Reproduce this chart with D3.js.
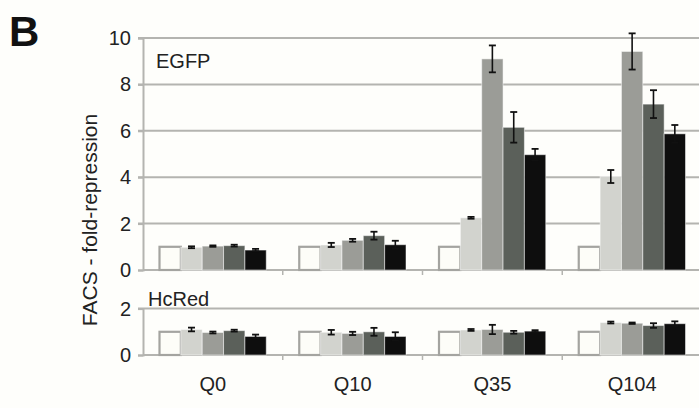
<!DOCTYPE html>
<html><head><meta charset="utf-8">
<script src="https://cdn.jsdelivr.net/npm/d3@7"></script>
<style>
html,body{margin:0;padding:0;background:#fefefb;}
svg{display:block;font-family:"Liberation Sans",Arial,sans-serif;}
</style></head>
<body><svg id="c" width="699" height="408"></svg>
<script>
const categories = ["Q0","Q10","Q35","Q104"];
const seriesIdx = [0,1,2,3,4];
const seriesColors = ["#fdfdf8","#d2d3ce","#9b9c97","#5b605a","#0e0e0e"];
// EGFP panel: mean and error per category (5 series each)
const egfpMeans = [
  [1, 0.98, 1.03, 1.05, 0.86],
  [1, 1.08, 1.28, 1.48, 1.09],
  [1, 2.25, 9.10, 6.15, 4.97],
  [1, 4.03, 9.42, 7.15, 5.87]
];
const egfpErrs = [
  [0, 0.04, 0.03, 0.04, 0.05],
  [0, 0.09, 0.06, 0.17, 0.17],
  [0, 0.04, 0.58, 0.66, 0.25],
  [0, 0.28, 0.78, 0.60, 0.38]
];
// HcRed panel
const hcredMeans = [
  [1, 1.10, 0.97, 1.05, 0.80],
  [1, 0.98, 0.93, 1.00, 0.80],
  [1, 1.08, 1.10, 0.98, 1.03],
  [1, 1.40, 1.37, 1.27, 1.35]
];
const hcredErrs = [
  [0, 0.08, 0.04, 0.04, 0.08],
  [0, 0.10, 0.07, 0.17, 0.18],
  [0, 0.04, 0.20, 0.06, 0.04],
  [0, 0.04, 0.03, 0.10, 0.10]
];
const egfpTicks = [0,2,4,6,8,10];
const hcredTicks = [0,2];

const svg = d3.select("#c");
const axisX = 143, rightX = 702;
const x0 = d3.scaleBand().domain(categories).range([axisX, rightX]).padding(0);
const x1 = d3.scaleBand().domain(seriesIdx).range([16.5, x0.bandwidth()-16.5]).padding(0);
const yTop = d3.scaleLinear().domain([0,10]).range([270,38]);
const yBot = d3.scaleLinear().domain([0,2]).range([355,308.6]);
const gridCol = "#b4b4b0", textCol = "#222";

function panel(y, ticks, means, errs, label, labelX, labelY){
  const g = svg.append("g");
  // gridlines
  g.selectAll("line.grid").data(ticks.filter(t=>t>0)).join("line")
    .attr("x1", axisX-5).attr("x2", 699)
    .attr("y1", d=>y(d)).attr("y2", d=>y(d))
    .attr("stroke", gridCol).attr("stroke-width", 2);
  // y axis
  const ax = d3.axisLeft(y).tickValues(ticks).tickSize(5).tickPadding(7).tickFormat(d3.format("d"));
  const ag = g.append("g").attr("transform", `translate(${axisX},0)`).call(ax);
  ag.select(".domain").attr("stroke", gridCol).attr("stroke-width", 2);
  ag.selectAll(".tick line").attr("stroke", gridCol).attr("stroke-width", 2);
  ag.selectAll(".tick text").attr("fill", textCol).style("font-size","20px").style("font-family",'"Liberation Sans",Arial,sans-serif');
  // baseline
  g.append("line").attr("x1", axisX).attr("x2", 699).attr("y1", y(0)).attr("y2", y(0))
    .attr("stroke", gridCol).attr("stroke-width", 2);
  // category ticks
  g.selectAll("line.ct").data(categories.slice(1)).join("line")
    .attr("x1", d=>x0(d)).attr("x2", d=>x0(d)).attr("y1", y(0)).attr("y2", y(0)+5)
    .attr("stroke", gridCol).attr("stroke-width", 1.5);
  // bars
  categories.forEach((c, ci) => {
    const cg = g.append("g").attr("transform", `translate(${x0(c)},0)`);
    cg.selectAll("rect").data(seriesIdx).join("rect")
      .attr("x", s=>x1(s)).attr("width", x1.bandwidth())
      .attr("y", s=>y(means[ci][s])).attr("height", s=>y(0)-y(means[ci][s]))
      .attr("fill", s=>seriesColors[s])
      .attr("stroke", s=> s===0 ? "#a4a4a0" : "rgba(255,255,255,0.5)")
      .attr("stroke-width", s=> s===0 ? 2.2 : 1);
    const eb = seriesIdx.filter(s=>errs[ci][s]>0);
    const cx = s=>x1(s)+x1.bandwidth()/2;
    cg.selectAll("line.ev").data(eb).join("line")
      .attr("x1", cx).attr("x2", cx)
      .attr("y1", s=>y(means[ci][s]+errs[ci][s])).attr("y2", s=>y(means[ci][s]-errs[ci][s]))
      .attr("stroke", "#111").attr("stroke-width", 1.6);
    ["+","-"].forEach(sign=>{
      cg.selectAll("line.cap"+(sign==="+"?"p":"m")).data(eb).join("line")
        .attr("x1", s=>cx(s)-3.5).attr("x2", s=>cx(s)+3.5)
        .attr("y1", s=>y(means[ci][s]+(sign==="+"?1:-1)*errs[ci][s]))
        .attr("y2", s=>y(means[ci][s]+(sign==="+"?1:-1)*errs[ci][s]))
        .attr("stroke", "#111").attr("stroke-width", 1.8);
    });
  });
  g.append("text").attr("x", labelX).attr("y", labelY).text(label)
    .attr("fill", textCol).style("font-size","20px");
}

panel(yTop, egfpTicks, egfpMeans, egfpErrs, "EGFP", 156, 68);
panel(yBot, hcredTicks, hcredMeans, hcredErrs, "HcRed", 148, 306);

// category labels
svg.selectAll("text.cat").data(categories).join("text")
  .attr("x", d=>x0(d)+x0.bandwidth()/2).attr("y", 391)
  .attr("text-anchor","middle").attr("fill", textCol).style("font-size","20px")
  .text(d=>d);

// y-axis title
svg.append("text").attr("transform","translate(97,220) rotate(-90)")
  .attr("text-anchor","middle").attr("fill", textCol).style("font-size","21px")
  .text("FACS - fold-repression");

// panel letter
svg.append("text").attr("x", 9).attr("y", 46).text("B")
  .attr("fill","#111").style("font-size","42px").style("font-weight","bold");
</script></body></html>
